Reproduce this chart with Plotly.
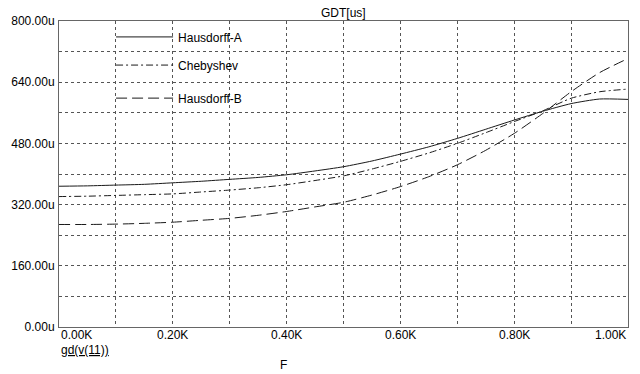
import plotly.graph_objects as go

freq_k = [0.0, 0.05, 0.1, 0.15, 0.2, 0.25, 0.3, 0.35, 0.4, 0.45, 0.5,
          0.55, 0.6, 0.65, 0.7, 0.75, 0.8, 0.85, 0.9, 0.95, 1.0]

hausdorff_a = [368, 369, 371, 373, 377, 381, 386, 391, 398, 408, 419,
               434, 452, 471, 493, 517, 541, 564, 584, 596, 595]
chebyshev = [341, 342, 344, 346, 348, 353, 358, 364, 372, 383, 395,
             413, 433, 455, 480, 508, 537, 565, 598, 615, 622]
hausdorff_b = [268, 268, 269, 271, 274, 279, 284, 292, 302, 314, 326,
               345, 367, 393, 424, 462, 506, 558, 615, 665, 702]

series_names = ["Hausdorff-A", "Chebyshev", "Hausdorff-B"]
y_tick_vals = [0, 160, 320, 480, 640, 800]
y_tick_text = ["0.00u", "160.00u", "320.00u", "480.00u", "640.00u", "800.00u"]
x_tick_vals = [0.0, 0.2, 0.4, 0.6, 0.8, 1.0]
x_tick_text = ["0.00K", "0.20K", "0.40K", "0.60K", "0.80K", "1.00K"]

FONT = "Liberation Sans, Arial, sans-serif"
line_color = "#1a1a1a"
dashes = ["solid", "7px,3px,2px,3px", "11px,5px"]
series = [hausdorff_a, chebyshev, hausdorff_b]
legend_ids = ["legend", "legend2", "legend3"]
legend_y = [0.948, 0.856, 0.748]

fig = go.Figure()
for name, vals, dash, lid in zip(series_names, series, dashes, legend_ids):
    fig.add_trace(go.Scatter(
        x=freq_k, y=vals, mode="lines", name=name,
        line=dict(color=line_color, width=1, dash=dash, shape="spline", smoothing=0.6),
        legend=lid,
    ))

legend_common = dict(
    xref="paper", yref="paper", xanchor="left", yanchor="middle",
    bgcolor="rgba(0,0,0,0)", borderwidth=0, itemwidth=57,
    font=dict(family=FONT, size=12, color="black"),
)
layout_legends = {}
for lid, ly in zip(legend_ids, legend_y):
    layout_legends[lid] = dict(legend_common, x=0.0915, y=ly)

fig.update_layout(
    width=640, height=374,
    margin=dict(l=58, r=11, t=21, b=47),
    paper_bgcolor="white", plot_bgcolor="white",
    font=dict(family=FONT, size=12, color="black"),
    showlegend=True,
    **layout_legends,
)

fig.update_xaxes(
    range=[0, 1.0], showticklabels=False, ticks="",
    tickvals=[0.1 * i for i in range(11)],
    showgrid=True, gridcolor="#555555", griddash="dot", gridwidth=1,
    showline=True, linecolor="#666666", linewidth=1, mirror=True, zeroline=False,
)
fig.update_yaxes(
    range=[0, 800], tickvals=y_tick_vals, ticktext=y_tick_text, ticks="",
    ticklabelstandoff=1,
    showgrid=True, gridcolor="#555555", griddash="dot", gridwidth=1,
    minor=dict(dtick=80, showgrid=True, gridcolor="#555555", griddash="dot", gridwidth=1),
    showline=True, linecolor="#666666", linewidth=1, mirror=True, zeroline=False,
    tickfont=dict(family=FONT, size=12, color="black"),
)

for i, (xv, xt) in enumerate(zip(x_tick_vals, x_tick_text)):
    anchor = "left" if i == 0 else ("right" if i == len(x_tick_vals) - 1 else "center")
    fig.add_annotation(x=xv, y=0, xref="x", yref="paper", text=xt, showarrow=False,
                       xanchor=anchor, yanchor="top", yshift=1,
                       font=dict(family=FONT, size=12, color="black"))

fig.add_annotation(x=0.5, y=1, xref="paper", yref="paper", text="GDT[us]",
                   showarrow=False, xanchor="center", yanchor="bottom", yshift=-1,
                   font=dict(family=FONT, size=12, color="black"))
fig.add_annotation(x=0, y=0, xref="paper", yref="paper", text="<u>gd(v(11))</u>",
                   showarrow=False, xanchor="left", yanchor="top", yshift=-14,
                   font=dict(family=FONT, size=12, color="black"))
fig.add_annotation(x=0.394, y=0, xref="paper", yref="paper", text="F",
                   showarrow=False, xanchor="center", yanchor="top", yshift=-29,
                   font=dict(family=FONT, size=12, color="black"))

fig.write_html("out.html", config={"displayModeBar": False},
               post_script="document.body.style.margin='0px';")
